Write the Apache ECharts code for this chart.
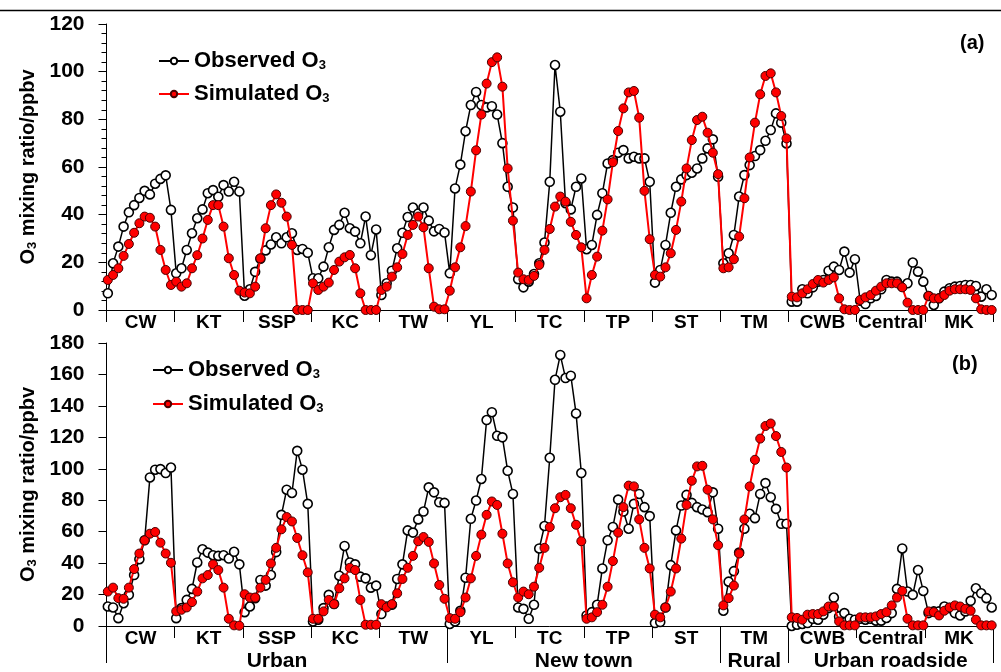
<!DOCTYPE html>
<html><head><meta charset="utf-8">
<script src="https://cdn.jsdelivr.net/npm/echarts@6/dist/echarts.min.js"></script>
<style>html,body{margin:0;padding:0;background:#fff}#c{width:1001px;height:672px}</style>
</head><body><div id="c"></div><script>
// ---- data ----
const stations = ['CW','KT','SSP','KC','TW','YL','TC','TP','ST','TM','CWB','Central','MK'];
const groups = ['Urban','New town','Rural','Urban roadside'];
const groupSizes = [5,4,1,3];
const yTicksA = [0,120,20];
const yTicksB = [0,180,20];

const obsA = [
 7,19.6,26.6,35,41,44,47,50,48.5,53,55,56.5,42,
 15.4,17.5,25.2,32.2,38.5,42.2,49,50.3,47.5,52.4,49.7,53.8,49.7,
 6,8.7,16,21.5,25,27.5,30.5,28,30.5,32.2,25.2,25.6,24,
 13.3,13.3,18.2,26.3,33.6,35.7,40.8,34.3,32.9,28,39.2,23,33.8,
 6.3,11.2,16.5,25.9,32.4,39,43,40.5,43,37.5,33,34,32.5,
 15.4,51,61,75,86,91.5,86,85,85.5,82,70,51.7,43,
 12.9,9.5,11.9,15.1,19.6,28.3,53.8,102.8,83.2,44.8,42.2,51.7,55.2,
 25.5,27.3,39.9,49,61.5,62.9,66,67.1,63.6,64.3,63.6,63.6,53.8,
 11.5,16.8,27.3,40.8,51.7,54.8,56.6,57.6,59.4,63.6,67.8,71.6,55.9,
 19.6,23.8,31.5,47.6,56.6,60.8,64.6,67.1,71,75.5,82.5,78.6,69.9,
 3.5,3.5,8.7,7,9.5,11.9,12.6,16.5,18.2,16.8,24.5,15.7,21.3,
 3.9,2.5,4.9,5.9,8.7,12.6,11.9,11.9,9.8,11.2,19.9,16.1,11.9,
 5.9,2.1,4.9,7.7,9.1,9.8,10.1,10.5,10.5,10.1,5.6,8.7,6.3
];
const simA = [
 12.6,14.7,17.5,22.7,27.7,32.4,36.4,39.2,38.7,35,25.2,16.8,10.5,
 11.9,9.8,11.2,17.5,23,30,37.8,44,44,35,21.7,14.7,8.1,
 7.3,7,9.8,21.7,34.3,44,48.5,45,39.2,27.3,0,0,0,
 11.2,8.4,9.8,11.5,16.8,20.3,22.1,23.1,17.5,7,0,0,0,
 8.4,9.8,14,17.9,23.5,31.5,35.7,39.2,34.7,17.5,1.4,0.3,0.3,
 8.1,17.9,26.3,35.2,49.7,67,82,95,104,106,93.7,59.4,37.5,
 15.7,12.9,12.6,14.3,18.9,25.2,34,43.4,47.6,45.5,37,31.5,26.3,
 4.9,14.7,22.4,33.3,46.4,62,75.1,84.6,91.3,91.9,80.7,50,29.7,
 14.7,14,17.9,23.8,33.6,45.5,59.4,71.3,79.7,81.1,74.4,66,57,
 17.5,17.9,21.3,30.8,46.9,64,78.6,90.5,98.2,99.3,91.3,81.4,72,
 5.6,5.3,7,8.7,10.9,12.6,11.5,12.6,13.7,4.9,0.3,0,0,
 4.2,5.3,6.3,8.1,9.8,11.2,11.2,11.2,9.5,3.1,0,0,0,
 5.9,4.9,4.9,6.3,8.1,8.7,8.7,8.7,8.4,4.9,0.3,0,0
];
const obsB = [
 12.4,11.8,5,14.5,19.8,32.4,42.5,54.5,94.5,99.4,99.8,97.3,100.8,
 5,11.4,16.6,23.6,40.4,48.8,46.7,45,44.6,45,42.9,47.2,39.2,
 8.8,12.4,17.7,29.3,25.7,32.4,47,70.7,86.7,84.6,111.4,99.4,77.7,
 2.9,4,11.4,19.8,14,32,50.9,40.4,39.2,31.4,30.3,24.4,25.7,
 7.6,12.4,13.5,29.9,39.2,60.8,59.4,67.8,72.8,88.2,85,78.7,78.3,
 1.3,2.9,9.7,30.7,68.2,79.8,93.5,131,136,121,120,98.7,84,
 11.8,10.9,4.6,13.5,49.3,63.6,107,156.6,172.4,157.7,159.2,135.2,97.3,
 6.7,8.8,13.5,36.6,54.5,63,80.4,72.8,61.9,77.7,84,75.6,69.9,
 1.9,2.5,11.8,38.7,60.8,76.6,83.4,78.3,75.6,74.1,72.4,85,61.9,
 9.7,28.2,34.9,46.7,61.9,71.4,68.6,84,90.9,81.9,74.5,65,65,
 0,0.8,1.3,1.9,4.6,4,7.2,11.4,18.1,6.1,8.2,4.6,4,
 4.6,4,4.6,3.4,3.4,5.1,8.2,23.6,49.3,21.9,19.8,35.6,22.3,
 8.2,9.3,9.3,12.4,11.4,8.2,6.7,9.3,16,24,20.8,17.7,11.8
];
const simB = [
 21.9,24.4,17.7,17.3,24.4,36.2,46.1,54.5,58.7,59.8,53,46.1,40.2,
 9.3,10.3,11.8,15.2,21.9,30.3,32.4,39.2,35.6,24.4,4.6,0.4,0.2,
 20.2,18.1,18.1,24.4,29.3,39.8,49.7,61.5,69.3,66.5,56,45,34.1,
 4.6,4.6,9.3,16.6,13.9,24,30.3,37,35.6,16.6,0.8,0.8,0.8,
 13.9,11.8,13.9,20.8,29.9,37,44.6,53.9,56.6,53.5,39.8,26.1,17.3,
 5,4.6,8.8,18.1,30.3,44.6,58.1,70.7,79.2,77,58.7,39.8,27.8,
 18.1,21.9,20.2,25,37,49.7,62.9,74.9,81.9,83.4,74.9,64.4,53.9,
 4.6,5.5,8.8,13.5,25,41.3,59.4,75.6,89.3,88.8,67.8,49.7,36.6,
 7.2,5.5,11.8,21.9,36.6,55.6,77,92.4,101.5,101.9,86.7,67.8,51.4,
 13.1,17.7,25.7,46.1,67.8,88.8,105.7,119.2,127.2,128.8,120.8,110.7,100.8,
 5.5,5.1,4,7.2,7.6,7.6,9.3,12.4,12.4,2.9,0.4,0.4,0.4,
 5.5,5.5,5.5,6.1,7.6,8.8,13.1,18.1,22.3,4.6,0.4,0.4,0.4,
 9.3,8.8,6.7,9.7,11.8,13.1,12.4,10.9,9.7,4,0.4,0.4,0.4
];

// ---- derived ----
const N = obsA.length;
const pairs = a => a.map((v, i) => [i, v]);
const groupBounds = [0];
groupSizes.forEach(s => groupBounds.push(groupBounds[groupBounds.length - 1] + s));
const groupCenters = groupSizes.map((s, i) => groupBounds[i] + s / 2);

const F = '"Liberation Sans", Arial, Helvetica, sans-serif';
const B = {fontFamily: F, fontWeight: 'bold', color: '#000'};
const sub = {sub: {fontFamily: F, fontWeight: 'bold', color: '#000', fontSize: 13, lineHeight: 13, verticalAlign: 'bottom'}};
const black = {color: '#000', width: 1};

function dataX(g) { return {gridIndex: g, type: 'value', min: -0.25, max: N - 1 + 0.25, show: false}; }
function stationX(g) {
  return {gridIndex: g, type: 'category', data: stations, position: 'bottom',
    axisLine: {onZero: false, lineStyle: black},
    axisTick: {show: true, interval: 0, length: 12, lineStyle: black},
    axisLabel: Object.assign({interval: 0, margin: 3, fontSize: 19}, B),
    splitLine: {show: false}};
}
function yAx(g, t, minor) {
  return {gridIndex: g, type: 'value', min: t[0], max: t[1], interval: t[2],
    axisLine: {show: true, onZero: false, lineStyle: black},
    axisTick: {show: true, length: 8, lineStyle: black},
    minorTick: {show: minor, splitNumber: 5, length: 5, lineStyle: black},
    splitLine: {show: false},
    axisLabel: Object.assign({margin: 22, fontSize: 21}, B),
    name: 'O{sub|3} mixing ratio/ppbv', nameLocation: 'middle', nameGap: 64,
    nameTextStyle: Object.assign({fontSize: 20, rich: sub}, B)};
}
function obsSeries(g, d) {
  return {name: 'Observed O3', type: 'line', xAxisIndex: g * 2, yAxisIndex: g, data: pairs(d),
    symbol: 'circle', symbolSize: 9, lineStyle: {color: '#000', width: 1.5},
    itemStyle: {color: '#fff', borderColor: '#000', borderWidth: 1.6}, z: 2};
}
function simSeries(g, d) {
  return {name: 'Simulated O3', type: 'line', xAxisIndex: g * 2, yAxisIndex: g, data: pairs(d),
    symbol: 'circle', symbolSize: 9, lineStyle: {color: '#ff0000', width: 2},
    itemStyle: {color: '#ff0000', borderColor: '#4a0000', borderWidth: 1}, z: 3};
}
function legend(left, top, gap) {
  return {left: left, top: top, orient: 'vertical', itemWidth: 30, itemHeight: 8, itemGap: gap,
    data: ['Observed O3', 'Simulated O3'],
    formatter: n => n.replace('O3', 'O{sub|3}'),
    textStyle: Object.assign({fontSize: 22, rich: sub}, B)};
}

const chart = echarts.init(document.getElementById('c'), null, {renderer: 'canvas'});
chart.setOption({
  animation: false,
  backgroundColor: '#fff',
  title: [
    {text: '(a)', left: 955, top: 28, textStyle: Object.assign({fontSize: 20}, B)},
    {text: '(b)', left: 947, top: 349, textStyle: Object.assign({fontSize: 20}, B)}
  ],
  legend: [legend(153, 45, 11), legend(147, 354, 12)],
  grid: [
    {left: 106.5, right: 8, top: 24, height: 286},
    {left: 106.5, right: 8, top: 343, height: 285}
  ],
  xAxis: [
    dataX(0), stationX(0), dataX(1), stationX(1),
    {gridIndex: 1, type: 'value', min: 0, max: stations.length, position: 'bottom',
      axisLine: {show: false}, splitLine: {show: false},
      axisTick: {show: true, customValues: groupBounds, length: 37, lineStyle: black},
      axisLabel: Object.assign({customValues: groupCenters, margin: 25, fontSize: 21,
        formatter: (v) => groups[groupCenters.indexOf(v)]}, B)}
  ],
  yAxis: [yAx(0, yTicksA, true), yAx(1, yTicksB, false)],
  series: [obsSeries(0, obsA), simSeries(0, simA), obsSeries(1, obsB), simSeries(1, simB)],
  graphic: [{type: 'line', shape: {x1: 0, y1: 10.5, x2: 1001, y2: 10.5}, style: {stroke: '#000', lineWidth: 1.5}}]
});
</script></body></html>
